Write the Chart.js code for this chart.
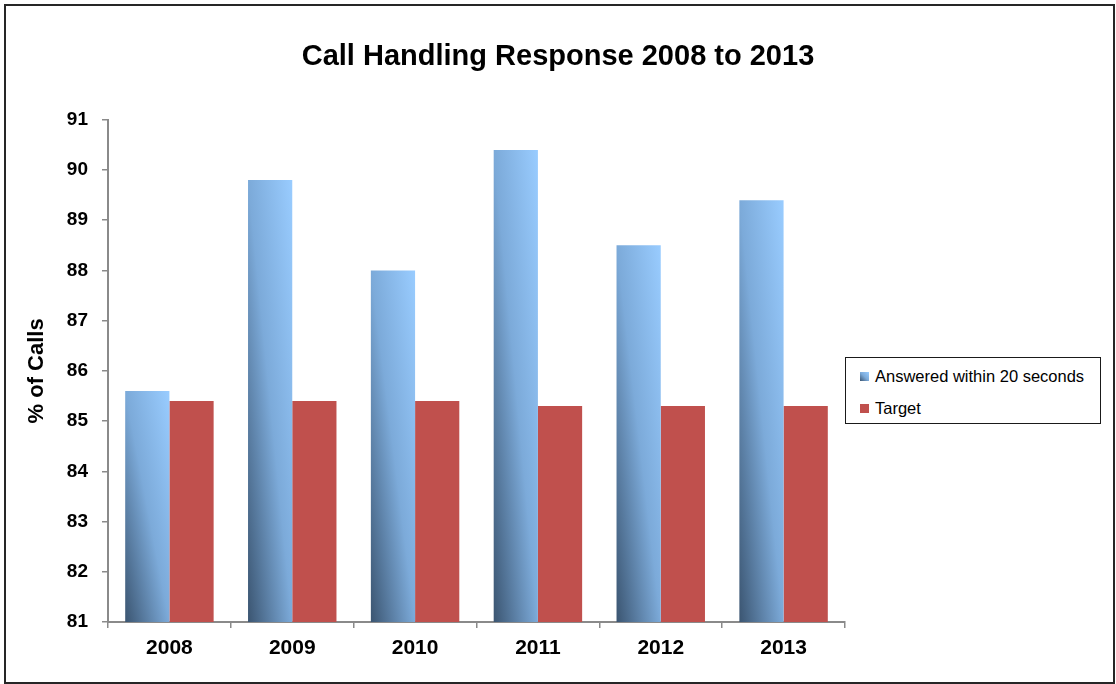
<!DOCTYPE html>
<html>
<head>
<meta charset="utf-8">
<script src="https://cdn.jsdelivr.net/npm/chart.js@4/dist/chart.umd.min.js"></script>
<style>
  body { margin: 0; background: #fff; }
  #wrap { position: relative; width: 1116px; height: 684px; font-family: "Liberation Sans", Arial, sans-serif; }
  #chart { position: absolute; left: 0; top: 0; }
  #frame { position: absolute; left: 4px; top: 4px; width: 1107px; height: 676px; border: 2px solid #262626; pointer-events: none; }
  #legend { position: absolute; left: 845px; top: 357px; width: 254px; height: 65px; border: 1px solid #1a1a1a; background: #fff; }
  .item { position: absolute; left: 14px; font-size: 16.5px; color: #000; line-height: 20px; }
  .swatch { display: inline-block; width: 9px; height: 9px; margin-right: 6px; vertical-align: 1px; }
</style>
</head>
<body>
<div id="wrap">
  <canvas id="chart" width="1116" height="684"></canvas>
  <div id="frame"></div>
  <div id="legend">
    <div class="item" style="top: 8px;"><span class="swatch" style="background: linear-gradient(45deg, #3b5571, #7caad9 50%, #99ccff);"></span>Answered within 20 seconds</div>
    <div class="item" style="top: 40px;"><span class="swatch" style="background: #c0504d;"></span>Target</div>
  </div>
</div>
<script>
const years = ["2008", "2009", "2010", "2011", "2012", "2013"];
const answered = [85.6, 89.8, 88.0, 90.4, 88.5, 89.4];
const target = [85.4, 85.4, 85.4, 85.3, 85.3, 85.3];

const Y_MIN = 81;
const Y_MAX = 91;
const CAT_PCT = 0.72;

// blue bars: shaded dark at bottom-left to light at top-right of each bar
function blueFill(context) {
  const chart = context.chart;
  const { ctx, scales } = chart;
  if (context.type !== "data" || !scales.x || !scales.y) return "#7caad9";
  const i = context.dataIndex;
  const catW = scales.x.width / years.length;
  const w = (catW * CAT_PCT) / 2;
  const left = scales.x.getPixelForValue(i) - w;
  const top = scales.y.getPixelForValue(answered[i]);
  const bottom = scales.y.getPixelForValue(Y_MIN);
  const h = bottom - top;
  if (!(w > 0 && h > 0)) return "#7caad9";
  const s = (2 * w * h) / (w * w + h * h);
  const g = ctx.createLinearGradient(left, bottom, left + s * h, bottom - s * w);
  g.addColorStop(0, "#3b5571");
  g.addColorStop(0.5, "#7caad9");
  g.addColorStop(1, "#99ccff");
  return g;
}

const axisColor = "#8a8a8a";
const font = "'Liberation Sans', Arial, sans-serif";

new Chart(document.getElementById("chart"), {
  type: "bar",
  data: {
    labels: years,
    datasets: [
      {
        label: "Answered within 20 seconds",
        data: answered,
        backgroundColor: blueFill,
        categoryPercentage: CAT_PCT,
        barPercentage: 1,
      },
      {
        label: "Target",
        data: target,
        backgroundColor: "#c0504d",
        categoryPercentage: CAT_PCT,
        barPercentage: 1,
      },
    ],
  },
  options: {
    responsive: false,
    animation: false,
    devicePixelRatio: 1,
    layout: { padding: 0 },
    plugins: {
      legend: { display: false },
      tooltip: { enabled: false },
      title: {
        display: true,
        text: "Call Handling Response 2008 to 2013",
        color: "#000",
        font: { family: font, size: 29, weight: "bold" },
        padding: { top: 40, bottom: 45 },
      },
    },
    scales: {
      x: {
        afterFit: (s) => { s.height = 62; },
        grid: { drawOnChartArea: false, drawTicks: true, tickLength: 6, color: axisColor, lineWidth: 1.5 },
        border: { color: axisColor, width: 2 },
        ticks: { color: "#000", padding: 8, font: { family: font, size: 21, weight: "bold" } },
      },
      y: {
        min: Y_MIN,
        max: Y_MAX,
        afterFit: (s) => { s.width = 108; },
        grid: { drawOnChartArea: false, drawTicks: true, tickLength: 6, color: axisColor, lineWidth: 1.5 },
        border: { color: axisColor, width: 2 },
        ticks: { stepSize: 1, color: "#000", padding: 14, font: { family: font, size: 19, weight: "bold" } },
        title: {
          display: true,
          text: "% of Calls",
          color: "#000",
          font: { family: font, size: 22, weight: "bold" },
          padding: { top: 24, bottom: 0 },
        },
      },
      // empty strip on the right that leaves room for the legend box
      side: {
        position: "right",
        afterFit: (s) => { s.width = 271; },
        grid: { display: false },
        border: { display: false },
        ticks: { display: false },
      },
    },
  },
});
</script>
</body>
</html>
